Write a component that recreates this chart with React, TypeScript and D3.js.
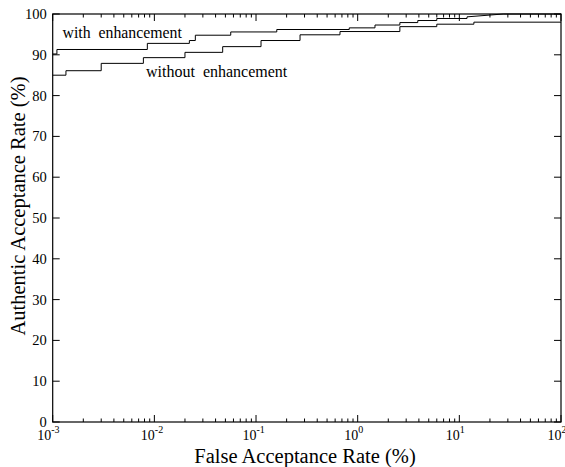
import React from "react";
import * as d3 from "d3";

const W = 565;
const H = 467;
const M = { left: 52.7, right: 561, top: 14, bottom: 422 };

const xDecades = [-3, -2, -1, 0, 1, 2];
const yTicks = [0, 10, 20, 30, 40, 50, 60, 70, 80, 90, 100];

// with enhancement: [FAR %, AAR %] step points
const withEnhFAR = [0.001, 0.0011, 0.00853, 0.0221, 0.0253, 0.0564, 0.16, 0.826, 1.48, 2.6, 3.9, 6.0, 11.9, 27, 100];
const withEnhAAR = [90.2, 91.3, 92.8, 93.5, 94.8, 95.6, 96.2, 96.6, 97.3, 97.9, 98.4, 98.9, 99.3, 100, 100];

// without enhancement
const withoutEnhFAR = [0.001, 0.00135, 0.003, 0.0078, 0.02, 0.047, 0.112, 0.271, 0.67, 2.6, 6.0, 13.9, 100];
const withoutEnhAAR = [85.0, 86.1, 87.9, 89.3, 90.6, 92.0, 93.5, 94.9, 95.7, 96.9, 97.5, 98.0, 98.0];

const labels = ["with  enhancement", "without  enhancement"];

export default function App() {
  const x = d3.scaleLog().domain([1e-3, 1e2]).range([M.left, M.right]);
  const y = d3.scaleLinear().domain([0, 100]).range([M.bottom, M.top]);

  const stepPath = (fx: number[], fy: number[], diagLast: boolean) => {
    const pts: [number, number][] = fx.map((v, i) => [v, fy[i]]);
    let d = "";
    for (let i = 0; i < pts.length; i++) {
      const [px, py] = pts[i];
      if (i === 0) {
        d += `M${x(px)},${y(py)}`;
      } else {
        const prevY = pts[i - 1][1];
        if (diagLast && i === pts.length - 2) {
          d += `L${x(px)},${y(py)}`;
        } else {
          d += `L${x(px)},${y(prevY)}L${x(px)},${y(py)}`;
        }
      }
    }
    return d;
  };

  const minor: number[] = [];
  for (let e = -3; e < 2; e++) {
    for (let k = 2; k <= 9; k++) minor.push(k * Math.pow(10, e));
  }

  const font = "'Liberation Serif', 'Times New Roman', serif";
  const majorLen = 7;
  const minorLen = 3.5;

  return (
    <svg width={W} height={H} style={{ position: "absolute", left: 0, top: 0, background: "#fff" }}>
      <rect x={0} y={0} width={W} height={H} fill="#fff" />
      <g stroke="#000" strokeWidth={1} fill="none">
        <rect x={M.left} y={M.top} width={M.right - M.left} height={M.bottom - M.top} strokeWidth={1.2} />
        {xDecades.map((e) => {
          const xv = x(Math.pow(10, e));
          return (
            <g key={"xd" + e}>
              <line x1={xv} x2={xv} y1={M.bottom} y2={M.bottom - majorLen} />
              <line x1={xv} x2={xv} y1={M.top} y2={M.top + majorLen} />
            </g>
          );
        })}
        {minor.map((v, i) => {
          const xv = x(v);
          return (
            <g key={"xm" + i}>
              <line x1={xv} x2={xv} y1={M.bottom} y2={M.bottom - minorLen} />
              <line x1={xv} x2={xv} y1={M.top} y2={M.top + minorLen} />
            </g>
          );
        })}
        {yTicks.map((t) => (
          <g key={"yt" + t}>
            <line x1={M.left} x2={M.left + majorLen} y1={y(t)} y2={y(t)} />
            <line x1={M.right} x2={M.right - majorLen} y1={y(t)} y2={y(t)} />
          </g>
        ))}
        <path d={stepPath(withEnhFAR, withEnhAAR, true)} strokeWidth={1} />
        <path d={stepPath(withoutEnhFAR, withoutEnhAAR, false)} strokeWidth={1} />
      </g>
      <g fontFamily={font} fill="#000">
        {yTicks.map((t) => (
          <text key={"yl" + t} x={M.left - 6} y={y(t) + 5} fontSize={14.5} textAnchor="end">
            {t}
          </text>
        ))}
        {xDecades.map((e) => (
          <text key={"xl" + e} x={x(Math.pow(10, e)) - (e === -3 ? 15.5 : 13.5)} y={439.5} fontSize={14} textAnchor="start">
            10
            <tspan dy={-7} fontSize={10}>
              {e}
            </tspan>
          </text>
        ))}
        <text x={305} y={462.5} fontSize={20.5} textAnchor="middle">
          False Acceptance Rate (%)
        </text>
        <text transform={`translate(24.5,206) rotate(-90)`} fontSize={20.5} textAnchor="middle">
          Authentic Acceptance Rate (%)
        </text>
        <text x={62.5} y={37.5} fontSize={15.8} style={{ whiteSpace: "pre" }}>
          {labels[0]}
        </text>
        <text x={146} y={76.5} fontSize={16} style={{ whiteSpace: "pre" }}>
          {labels[1]}
        </text>
      </g>
    </svg>
  );
}
